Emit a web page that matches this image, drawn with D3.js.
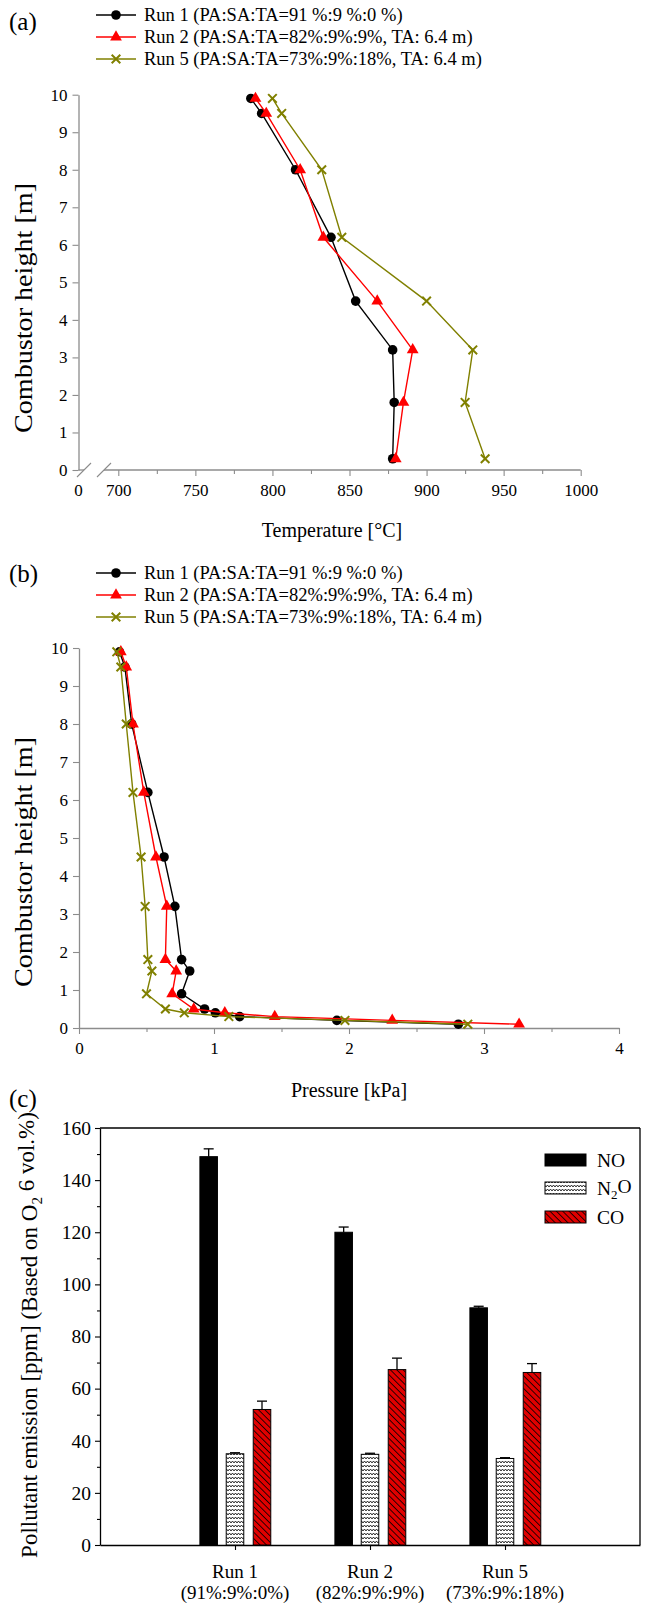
<!DOCTYPE html>
<html><head><meta charset="utf-8">
<script src="https://cdn.jsdelivr.net/npm/d3@7"></script>
<style>
body{margin:0;background:#fff}
svg text{font-family:"Liberation Serif","Times New Roman",serif !important;fill:#000}
</style></head>
<body><svg id="chart" width="648" height="1604" font-family="Liberation Serif"></svg>
<script>
// ---------- DATA ----------
const runLabels = ["Run 1 (PA:SA:TA=91 %:9 %:0 %)", "Run 2 (PA:SA:TA=82%:9%:9%, TA: 6.4 m)", "Run 5 (PA:SA:TA=73%:9%:18%, TA: 6.4 m)"];
const runColors = ["#000000", "#ff0000", "#808000"];
const runMarkers = ["circle", "triangle", "cross"];

// Panel (a): temperature profile
const heightsA = [9.9, 9.5, 8.0, 6.2, 4.5, 3.2, 1.8, 0.3];
const tempRun1 = [786, 793, 815, 838, 854, 878, 879, 878];
const tempRun2 = [789, 796, 818, 833, 868, 891, 885, 880];
const tempRun5 = [800, 806, 832, 845, 900, 930, 925, 938];
const tempTicks = [700, 750, 800, 850, 900, 950, 1000];
const tempMinorTicks = [725, 775, 825, 875, 925, 975];

// Panel (b): pressure profile
const heightsB = [9.9, 9.5, 8.0, 6.2, 4.5, 3.2, 1.8, 1.5, 0.9, 0.5, 0.4, 0.3, 0.2, 0.1];
const presRun1 = [0.30, 0.34, 0.39, 0.51, 0.63, 0.71, 0.76, 0.82, 0.76, 0.93, 1.01, 1.19, 1.91, 2.81];
const presRun2 = [0.31, 0.35, 0.40, 0.48, 0.57, 0.65, 0.64, 0.72, 0.69, 0.85, 1.08, 1.45, 2.32, 3.26];
const presRun5 = [0.28, 0.31, 0.35, 0.40, 0.46, 0.49, 0.51, 0.54, 0.50, 0.64, 0.78, 1.11, 1.97, 2.88];
const presTicks = [0, 1, 2, 3, 4];
const presMinorTicks = [0.5, 1.5, 2.5, 3.5];
const heightTicks = [0, 1, 2, 3, 4, 5, 6, 7, 8, 9, 10];

// Panel (c): pollutant emission
const categories = ["Run 1", "Run 2", "Run 5"];
const categoryRatios = ["(91%:9%:0%)", "(82%:9%:9%)", "(73%:9%:18%)"];
const pollutants = ["NO", "N2O", "CO"];
const noValues = [149, 120, 91];
const noErrors = [3, 2, 0.6];
const n2oValues = [35, 34.8, 33.2];
const n2oErrors = [0.4, 0.4, 0.3];
const coValues = [52, 67.3, 66.2];
const coErrors = [3.2, 4.4, 3.4];
const emissionTicks = [0, 20, 40, 60, 80, 100, 120, 140, 160];
const emissionMinorTicks = [10, 30, 50, 70, 90, 110, 130, 150];

// ---------- DRAW ----------
const FONT = "Liberation Serif";
const svg = d3.select("#chart");
const defs = svg.append("defs");
const gray = "#8c8c8c";

function txt(parent) { return parent.append("text").attr("font-family", FONT); }

// patterns
const pz = defs.append("pattern").attr("id", "zig").attr("patternUnits", "userSpaceOnUse")
  .attr("width", 6).attr("height", 4);
pz.append("rect").attr("width", 6).attr("height", 4).attr("fill", "#fff");
pz.append("path").attr("d", "M0,3 L1.5,1 L3,3 L4.5,1 L6,3").attr("fill", "none").attr("stroke", "#000").attr("stroke-width", 0.8);
const ph = defs.append("pattern").attr("id", "hatch").attr("patternUnits", "userSpaceOnUse")
  .attr("width", 4.5).attr("height", 4.5).attr("patternTransform", "rotate(-45)");
ph.append("rect").attr("width", 4.5).attr("height", 4.5).attr("fill", "#e00000");
ph.append("line").attr("x1", 0).attr("y1", 0).attr("x2", 0).attr("y2", 4.5).attr("stroke", "#000").attr("stroke-width", 1.6);

function marker(g, type, x, y, color) {
  if (type === "circle") {
    g.append("circle").attr("cx", x).attr("cy", y).attr("r", 4.8).attr("fill", color);
  } else if (type === "triangle") {
    g.append("path").attr("d", d3.symbol().type(d3.symbolTriangle).size(60)())
      .attr("transform", `translate(${x},${y})`).attr("fill", color);
  } else {
    const s = 4.3;
    g.append("path").attr("d", `M${x - s},${y - s}L${x + s},${y + s}M${x - s},${y + s}L${x + s},${y - s}`)
      .attr("stroke", color).attr("stroke-width", 2).attr("fill", "none");
  }
}

function legend(y0, label, labelY) {
  txt(svg).attr("x", 9).attr("y", labelY).attr("dy", "0.35em").attr("font-size", 25).text(label);
  runLabels.forEach((t, i) => {
    const y = y0 + i * 22;
    svg.append("line").attr("x1", 96).attr("x2", 136).attr("y1", y).attr("y2", y)
      .attr("stroke", runColors[i]).attr("stroke-width", 1.5);
    marker(svg, runMarkers[i], 116, y, runColors[i]);
    txt(svg).attr("x", 144).attr("y", y).attr("dy", "0.35em").attr("font-size", 18.5).text(t);
  });
}

function styleAxis(g, color, fs) {
  g.attr("font-family", FONT);
  g.selectAll("path.domain").attr("stroke", color).attr("stroke-width", 1.3);
  g.selectAll(".tick line").attr("stroke", color).attr("stroke-width", 1.1);
  g.selectAll(".tick text").attr("font-family", FONT).attr("font-size", fs).attr("fill", "#000");
}

function drawProfile(xs, ys, series, heights) {
  series.forEach((vals, i) => {
    const pts = vals.map((v, j) => [xs(v), ys(heights[j])]);
    svg.append("path").attr("d", d3.line()(pts)).attr("fill", "none")
      .attr("stroke", runColors[i]).attr("stroke-width", 1.4);
    const mg = svg.append("g");
    pts.forEach(p => marker(mg, runMarkers[i], p[0], p[1], runColors[i]));
  });
}

// ===== Panel (a) =====
legend(15, "(a)", 21);
const xA = d3.scaleLinear().domain([700, 1000]).range([118.3, 580.7]);
const yA = d3.scaleLinear().domain([0, 10]).range([470, 94.7]);
const axX0 = 78.5;
const gYA = svg.append("g").attr("transform", `translate(${axX0},0)`)
  .call(d3.axisLeft(yA).tickValues(heightTicks).tickSize(6).tickSizeOuter(0).tickPadding(5));
styleAxis(gYA, gray, 17);
const gXA = svg.append("g").attr("transform", `translate(0,${yA(0)})`)
  .call(d3.axisBottom(xA).tickValues(tempTicks).tickSize(6).tickPadding(8).tickFormat(d3.format("d")));
gXA.select("path.domain").remove();
styleAxis(gXA, gray, 17);
const gXAm = svg.append("g").attr("transform", `translate(0,${yA(0)})`)
  .call(d3.axisBottom(xA).tickValues(tempMinorTicks).tickSize(4).tickFormat(""));
gXAm.select("path.domain").remove();
styleAxis(gXAm, gray, 17);
// broken axis line
const yb = yA(0);
svg.append("line").attr("x1", axX0).attr("x2", 84).attr("y1", yb).attr("y2", yb).attr("stroke", gray).attr("stroke-width", 1.3);
svg.append("line").attr("x1", 104).attr("x2", xA(1000)).attr("y1", yb).attr("y2", yb).attr("stroke", gray).attr("stroke-width", 1.3);
[84, 104].forEach(cx => svg.append("line").attr("x1", cx - 7).attr("y1", yb + 7).attr("x2", cx + 7).attr("y2", yb - 7)
  .attr("stroke", gray).attr("stroke-width", 1.1));
txt(svg).attr("x", axX0).attr("y", yb + 14).attr("dy", "0.71em").attr("text-anchor", "middle").attr("font-size", 17).text("0");
drawProfile(xA, yA, [tempRun1, tempRun2, tempRun5], heightsA);
txt(svg).attr("x", 332).attr("y", 530).attr("dy", "0.35em").attr("text-anchor", "middle").attr("font-size", 20)
  .text("Temperature [\u00B0C]");
txt(svg).attr("transform", `translate(23,308) rotate(-90)`).attr("dy", "0.35em")
  .attr("text-anchor", "middle").attr("font-size", 26).attr("textLength", 250).attr("lengthAdjust", "spacingAndGlyphs")
  .text("Combustor height [m]");

// ===== Panel (b) =====
legend(573, "(b)", 573);
const xB = d3.scaleLinear().domain([0, 4]).range([79, 619]);
const yB = d3.scaleLinear().domain([0, 10]).range([1028, 648]);
const gYB = svg.append("g").attr("transform", `translate(${xB(0)},0)`)
  .call(d3.axisLeft(yB).tickValues(heightTicks).tickSize(6).tickSizeOuter(0).tickPadding(5));
styleAxis(gYB, gray, 17);
const gXB = svg.append("g").attr("transform", `translate(0,${yB(0)})`)
  .call(d3.axisBottom(xB).tickValues(presTicks).tickSize(6).tickSizeOuter(0).tickPadding(8).tickFormat(d3.format("d")));
styleAxis(gXB, gray, 17);
const gXBm = svg.append("g").attr("transform", `translate(0,${yB(0)})`)
  .call(d3.axisBottom(xB).tickValues(presMinorTicks).tickSize(4).tickFormat(""));
gXBm.select("path.domain").remove();
styleAxis(gXBm, gray, 17);
drawProfile(xB, yB, [presRun1, presRun2, presRun5], heightsB);
txt(svg).attr("x", 349).attr("y", 1090).attr("dy", "0.35em").attr("text-anchor", "middle").attr("font-size", 20)
  .text("Pressure [kPa]");
txt(svg).attr("transform", `translate(23,862) rotate(-90)`).attr("dy", "0.35em")
  .attr("text-anchor", "middle").attr("font-size", 26).attr("textLength", 250).attr("lengthAdjust", "spacingAndGlyphs")
  .text("Combustor height [m]");

// ===== Panel (c) =====
txt(svg).attr("x", 9).attr("y", 1098).attr("dy", "0.35em").attr("font-size", 25).text("(c)");
const xC = d3.scaleLinear().domain([0, 4]).range([100, 640]);
const yC = d3.scaleLinear().domain([0, 160]).range([1545, 1128]);
const catPos = categories.map((c, i) => i + 1);
// frame
svg.append("line").attr("x1", xC(0)).attr("x2", xC(4)).attr("y1", yC(160)).attr("y2", yC(160)).attr("stroke", "#000").attr("stroke-width", 1.3);
svg.append("line").attr("x1", xC(4)).attr("x2", xC(4)).attr("y1", yC(160)).attr("y2", yC(0)).attr("stroke", "#000").attr("stroke-width", 1.3);
const gYC = svg.append("g").attr("transform", `translate(${xC(0)},0)`)
  .call(d3.axisLeft(yC).tickValues(emissionTicks).tickSize(5).tickSizeOuter(0).tickPadding(4));
styleAxis(gYC, "#000", 19.5);
const gYCm = svg.append("g").attr("transform", `translate(${xC(0)},0)`)
  .call(d3.axisLeft(yC).tickValues(emissionMinorTicks).tickSize(3).tickFormat(""));
gYCm.select("path.domain").remove();
styleAxis(gYCm, "#000", 19.5);
const gXC = svg.append("g").attr("transform", `translate(0,${yC(0)})`)
  .call(d3.axisBottom(xC).tickValues(catPos).tickSize(5).tickSizeOuter(0).tickFormat(""));
styleAxis(gXC, "#000", 19);
categories.forEach((c, i) => {
  txt(svg).attr("x", xC(catPos[i])).attr("y", 1571).attr("dy", "0.35em").attr("text-anchor", "middle").attr("font-size", 19).text(c);
  txt(svg).attr("x", xC(catPos[i])).attr("y", 1592).attr("dy", "0.35em").attr("text-anchor", "middle").attr("font-size", 19).text(categoryRatios[i]);
});
const barW = 0.13, offsets = [-0.195, 0, 0.2];
const fills = ["#000", "url(#zig)", "url(#hatch)"];
const seriesVals = [noValues, n2oValues, coValues];
const seriesErr = [noErrors, n2oErrors, coErrors];
seriesVals.forEach((vals, s) => {
  vals.forEach((v, i) => {
    const cx = xC(catPos[i] + offsets[s]);
    const w = xC(barW) - xC(0);
    svg.append("rect").attr("x", cx - w / 2).attr("y", yC(v)).attr("width", w).attr("height", yC(0) - yC(v))
      .attr("fill", fills[s]).attr("stroke", "#000").attr("stroke-width", 1);
    const top = yC(v + seriesErr[s][i]);
    svg.append("line").attr("x1", cx).attr("x2", cx).attr("y1", yC(v)).attr("y2", top).attr("stroke", "#000").attr("stroke-width", 1.3);
    svg.append("line").attr("x1", cx - 5).attr("x2", cx + 5).attr("y1", top).attr("y2", top).attr("stroke", "#000").attr("stroke-width", 1.3);
  });
});
// legend (c)
const legY = [1160, 1188, 1217];
pollutants.forEach((p, i) => {
  svg.append("rect").attr("x", 545).attr("y", legY[i] - 6).attr("width", 41).attr("height", 12)
    .attr("fill", fills[i]).attr("stroke", "#000").attr("stroke-width", 1);
  const t = txt(svg).attr("x", 597).attr("y", legY[i]).attr("dy", "0.35em").attr("font-size", 19.5);
  if (p === "N2O") {
    t.append("tspan").text("N");
    t.append("tspan").attr("font-size", 13).attr("dy", "0.3em").text("2");
    t.append("tspan").attr("dy", "-0.3em").text("O");
  } else t.text(p);
});
const yl = txt(svg).attr("transform", `translate(29,1335) rotate(-90)`).attr("dy", "0.35em")
  .attr("text-anchor", "middle").attr("font-size", 23);
yl.append("tspan").text("Pollutant emission [ppm] (Based on O");
yl.append("tspan").attr("font-size", 15).attr("dy", "0.35em").text("2");
yl.append("tspan").attr("dy", "-0.35em").text(" 6 vol.%)");
</script>
</body></html>
